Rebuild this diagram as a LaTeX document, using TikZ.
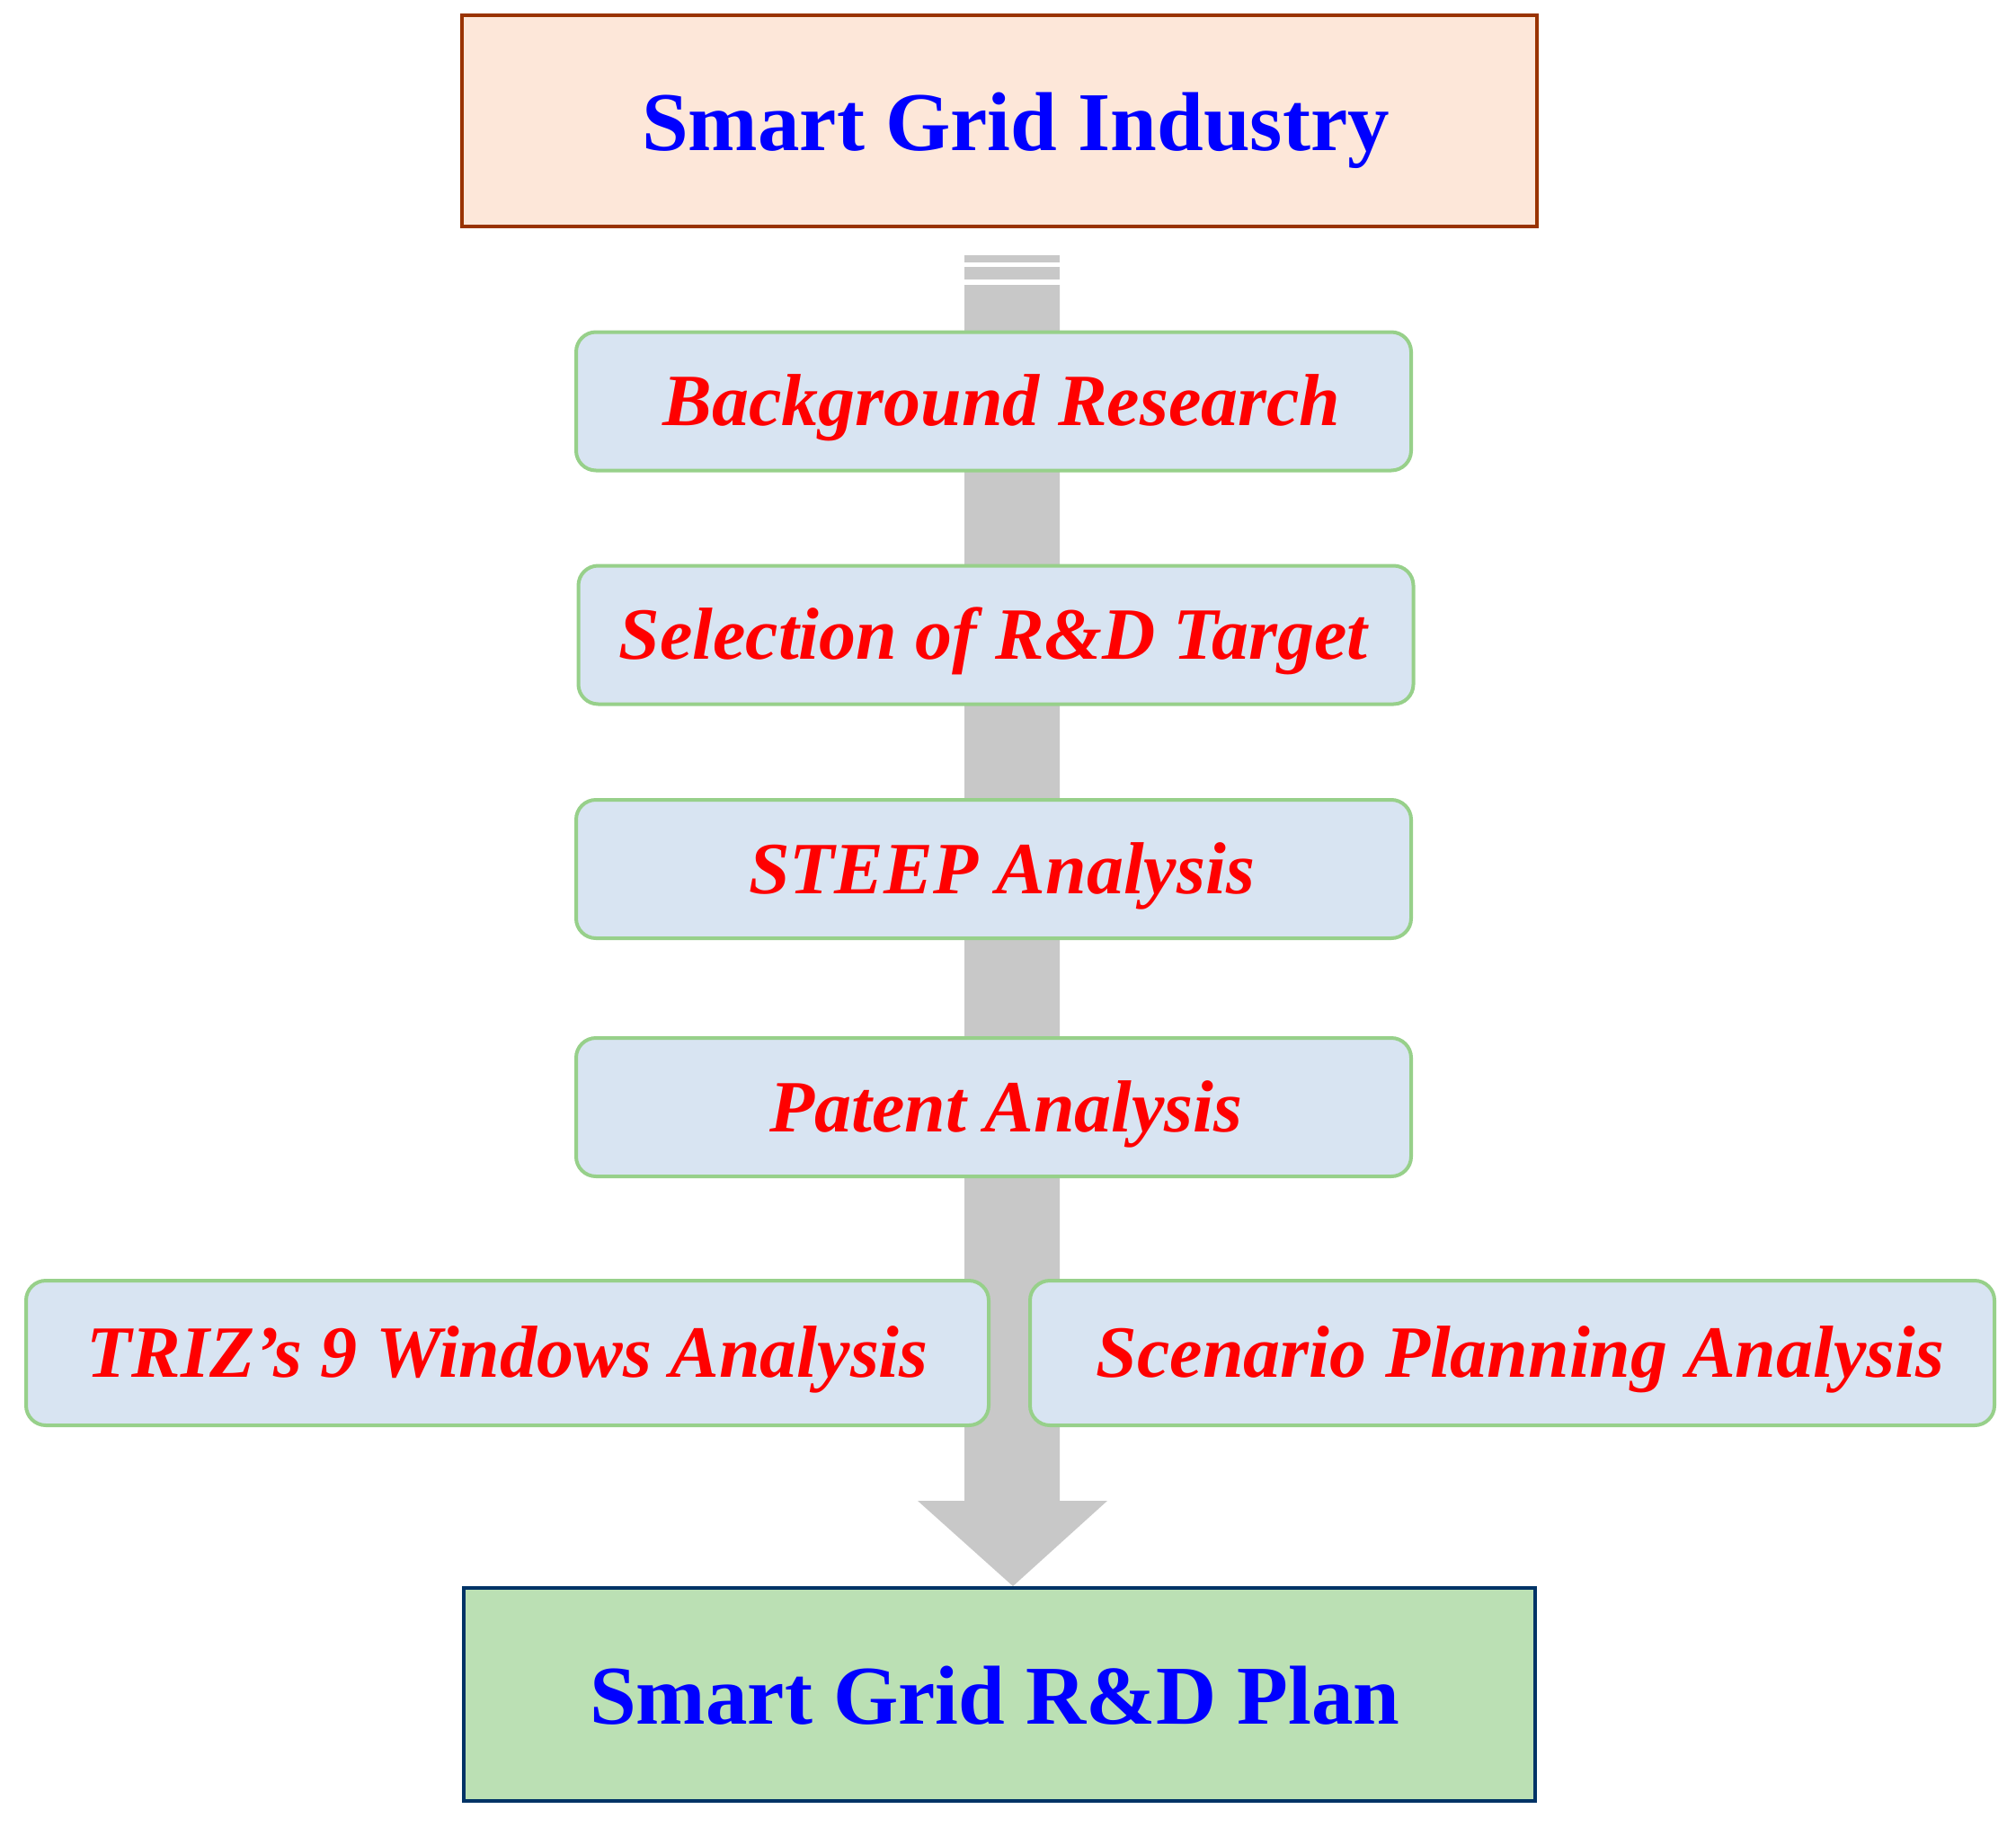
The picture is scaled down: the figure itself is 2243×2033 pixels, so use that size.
\documentclass[tikz,border=0pt]{standalone}
\usepackage{fontspec}
\setmainfont{Liberation Serif}
\definecolor{topfill}{RGB}{253,231,217}
\definecolor{topdraw}{RGB}{153,51,0}
\definecolor{stepfill}{RGB}{216,228,242}
\definecolor{stepdraw}{RGB}{151,208,138}
\definecolor{endfill}{RGB}{187,224,180}
\definecolor{enddraw}{RGB}{0,51,102}
\definecolor{arrowgray}{RGB}{200,200,200}
\definecolor{txtblue}{RGB}{0,0,255}
\definecolor{txtred}{RGB}{255,0,0}
\tikzset{
  headbox/.style={rectangle, line width=2pt, inner sep=0pt,
    text=txtblue, font=\fontsize{46.5}{50}\selectfont\bfseries,
    text height=33pt, text depth=0pt},
  stepbox/.style={rectangle, rounded corners=11pt, draw=stepdraw, fill=stepfill,
    line width=2pt, inner sep=0pt, text=txtred,
    font=\fontsize{41}{45}\selectfont\bfseries\itshape,
    text height=27pt, text depth=0pt,
    minimum width=464.5pt, minimum height=77pt},
  sidebox/.style={stepbox, minimum width=536pt, minimum height=80.5pt},
}
\begin{document}
\begin{tikzpicture}[x=0.5pt,y=-0.5pt]
\useasboundingbox (0,0) rectangle (2243,2033);
% big background arrow
\fill[arrowgray] (1073,284) rectangle (1179,292);
\fill[arrowgray] (1073,297) rectangle (1179,311);
\coordinate (shaftL) at (1073,317);
\coordinate (shaftR) at (1179,317);
\coordinate (tip) at (1127,1765);
\fill[arrowgray] (shaftL) -- (shaftR) -- (1179,1670) -- (1232,1670) -- (tip)
  -- (1021,1670) -- (1073,1670) -- cycle;
% boxes
\node[headbox, draw=topdraw, fill=topfill, minimum width=598pt, minimum height=117.5pt]
  (top) at (1112,135) {\kern18pt Smart Grid Industry};
\node[stepbox] (bg) at (1105.5,446.5) {\kern9pt Background Research};
\node[stepbox] (sel) at (1108,706.5) {\kern-3pt Selection of R\&D Target};
\node[stepbox] (steep) at (1105.5,967) {\kern9pt STEEP Analysis};
\node[stepbox] (pat) at (1105.5,1232) {\kern14pt Patent Analysis};
\node[sidebox, minimum width=535.5pt] (triz) at (564.5,1505.5) {TRIZ’s 9 Windows Analysis};
\node[sidebox, minimum width=536.5pt] (scen) at (1682.5,1505.5) {\kern9pt Scenario Planning Analysis};
\node[headbox, draw=enddraw, fill=endfill, minimum width=596pt, minimum height=118.5pt]
  (plan) at (1112,1885.5) {\kern-5pt Smart Grid R\&D Plan};
\end{tikzpicture}
\end{document}
